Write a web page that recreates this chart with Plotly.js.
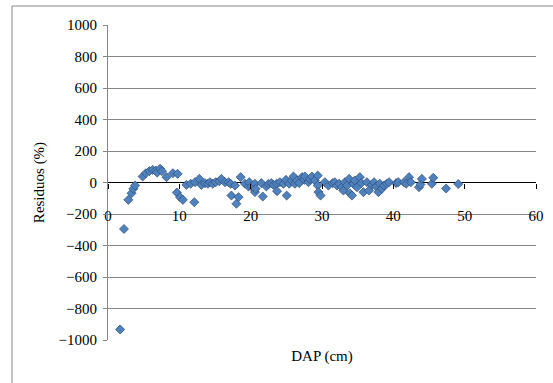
<!DOCTYPE html>
<html>
<head>
<meta charset="utf-8">
<script src="https://cdn.plot.ly/plotly-3.0.1.min.js"></script>
<style>
html,body{margin:0;padding:0;background:#fff;}
#chart{width:553px;height:383px;}
</style>
</head>
<body>
<div id="chart"></div>
<script>
const dap = [
 1.7, 2.24, 2.85, 3.3, 3.55, 3.8, 4.86, 5.3, 5.8, 6.26, 6.7, 6.9, 7.3, 7.57, 8.2, 9.1, 9.75, 9.65, 10.1, 10.5,
 11.0, 11.6, 12.1, 12.2, 12.8, 13.1, 13.6, 14.0, 14.3, 14.7, 15.1, 15.6, 15.9, 16.4, 16.9, 17.2, 17.3, 17.8, 18.0, 18.3,
 18.6, 19.2, 19.7, 19.8, 20.1, 20.6, 20.6, 20.7, 21.5, 21.7, 22.2, 22.5, 22.9, 23.2, 23.65, 23.7, 24.1, 24.6, 24.95, 25.05,
 25.4, 25.75, 26.0, 26.2, 26.5, 26.8, 27.2, 27.5, 27.6, 28.1, 28.3, 28.6, 29.0, 29.4, 29.4, 29.5, 29.8,
 30.4, 30.9, 31.5, 31.8, 32.1, 32.4, 32.8, 33.0, 33.2, 33.5, 33.8, 33.9, 34.2, 34.4, 34.6, 34.9, 35.3, 35.5, 35.8,
 36.3, 36.6, 37.0, 37.3, 37.6, 37.9, 38.1, 38.4, 38.7, 39.1, 39.4, 40.4, 40.7, 41.5, 41.8, 42.2, 42.45, 43.6, 43.8, 44.0,
 45.4, 45.6, 47.4, 49.1
];
const residuos = [
 -933, -295, -110, -68, -40, -19, 38, 59, 72, 80, 76, 63, 87, 72, 34, 59, 55, -64, -93, -110,
 -15, -8, -125, 2, 23, -15, -4, -8, 2, -8, 2, 8, 23, 2, 2, -8, -83, -19, -135, -93,
 34, -8, -25, 2, -25, -8, -61, -40, -4, -89, -25, -8, -4, -15, -8, -55, 2, -8, 17, -83,
 -8, 13, 38, -8, 13, -4, 34, 17, 38, 2, 23, 38, 13, 44, -19, -61, -83,
 2, -19, -4, 2, -19, -8, -30, -51, 2, -19, 23, -68, -83, -8, 13, -30, 34, -4, -61,
 2, -51, -15, 2, -25, -61, -8, -40, -19, -8, 2, -4, 2, 2, -8, 34, 2, -30, -13, 23,
 -8, 30, -38, -10
];
const xTicks = [0, 10, 20, 30, 40, 50, 60];
const yTicks = [-1000, -800, -600, -400, -200, 0, 200, 400, 600, 800, 1000];

const fam = 'Liberation Serif';
const L = 108, R = 17, T = 25, B = 43, W = 553, H = 383;
const pw = W - L - R, ph = H - T - B;

const trace = {
  x: dap, y: residuos, type: 'scatter', mode: 'markers',
  marker: {symbol: 'diamond', size: 7, color: '#4F81BD', line: {color: '#2E4E7A', width: 0.7}},
  hoverinfo: 'x+y', cliponaxis: false
};

const layout = {
  width: W, height: H,
  margin: {l: L, r: R, t: T, b: B, pad: 0},
  paper_bgcolor: '#fff', plot_bgcolor: '#fff',
  showlegend: false,
  font: {family: fam, size: 15, color: '#000'},
  xaxis: {
    range: [0, 60], tickvals: xTicks,
    anchor: 'free', position: 0.5,
    showgrid: false, zeroline: false, showline: false,
    ticks: 'outside', ticklen: 5, tickcolor: '#000', tickwidth: 1,
    ticklabelstandoff: 14,
    title: {text: 'DAP (cm)', font: {size: 15}, standoff: 127}
  },
  yaxis: {
    range: [-1000, 1000], tickvals: yTicks,
    showgrid: true, gridcolor: '#878787', gridwidth: 1,
    zeroline: true, zerolinecolor: '#000', zerolinewidth: 1,
    showline: true, linecolor: '#878787', linewidth: 1,
    ticks: 'outside', ticklen: 4, tickcolor: '#878787',
    ticklabelstandoff: 3,
    title: {text: 'Residuos (%)', font: {size: 15}, standoff: 10}
  },
  shapes: [
    {type: 'line', xref: 'paper', yref: 'paper',
     x0: (12 - L) / pw, x1: (W - L) / pw + 0.01, y0: (H - B - 6) / ph, y1: (H - B - 6) / ph,
     line: {color: '#878787', width: 1}},
    {type: 'line', xref: 'paper', yref: 'paper',
     x0: (12 - L) / pw, x1: (12 - L) / pw, y0: (H - B - 6) / ph, y1: -B / ph - 0.01,
     line: {color: '#878787', width: 1}}
  ]
};

Plotly.newPlot('chart', [trace], layout, {displayModeBar: false, staticPlot: true});
</script>
</body>
</html>
